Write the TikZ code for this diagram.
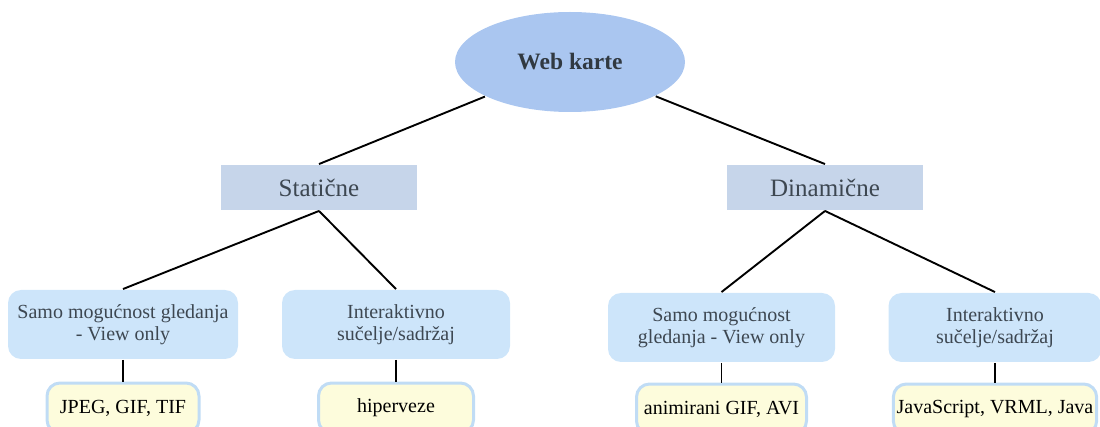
\documentclass[tikz,border=0pt]{standalone}
\usepackage{fontspec}
\setmainfont{Liberation Serif}
\usetikzlibrary{shapes.geometric}

\definecolor{rootblue}{HTML}{AAC6F0}
\definecolor{kindblue}{HTML}{C6D5EA}
\definecolor{modeblue}{HTML}{CDE5FA}
\definecolor{leafyellow}{HTML}{FDFCDC}
\definecolor{leafedge}{HTML}{C0DCF5}
\definecolor{greytext}{HTML}{3D4751}

\begin{document}
\begin{tikzpicture}[x=1pt,y=-1pt,line width=1.9pt,
    root/.style={ellipse,fill=rootblue,minimum width=230pt,minimum height=100pt,
        font=\fontsize{23.5}{26}\selectfont\bfseries,text=greytext!80!black},
    kind/.style={rectangle,fill=kindblue,minimum width=196pt,minimum height=45pt,
        font=\fontsize{25}{28}\selectfont,text=greytext},
    mode/.style={rectangle,rounded corners=13pt,fill=modeblue,minimum height=69pt,
        align=center,font=\fontsize{20}{22}\selectfont,text=greytext},
    leaf/.style={rectangle,rounded corners=13pt,fill=leafyellow,draw=leafedge,
        line width=3pt,minimum height=50pt,font=\fontsize{20}{22}\selectfont,text=black}]

    \useasboundingbox (0,0) rectangle (1100,427);
    \clip (0,0) rectangle (1100,427);

    % root and the two kinds
    \node[root] (web) at (570,62) {Web karte};
    \node[kind] (stat) at (319,187.5) {Statične};
    \node[kind] (din) at (825,187.5) {Dinamične};

    % second level
    \node[mode,minimum width=230pt] (statview) at (123,324.5) {Samo mogućnost gledanja\\- View only};
    \node[mode,minimum width=228pt] (statint) at (396,324.5) {Interaktivno\\sučelje/sadržaj};
    \node[mode,minimum width=227pt] (dinview) at (721.5,327.5) {Samo mogućnost\\gledanja - View only};
    \node[mode,minimum width=213pt] (dinint) at (995,327.5) {Interaktivno\\sučelje/sadržaj};

    % leaves
    \node[leaf,minimum width=152pt] (statviewex) at (123,408) {JPEG, GIF, TIF};
    \node[leaf,minimum width=155pt] (statintex) at (396,408) {hiperveze};
    \node[leaf,minimum width=170pt] (dinviewex) at (721.5,409) {animirani GIF, AVI};
    \node[leaf,minimum width=200pt] (dinintex) at (995,409) {JavaScript, VRML, Java};

    \draw (web) -- (stat.north);
    \draw (web) -- (din.north);
    \foreach \a/\b in {stat/statview,stat/statint,din/dinview,din/dinint}
        \draw (\a.south) -- (\b.north);
    \foreach \a in {statview,statint,dinview,dinint}
        \draw (\a.south) -- (\a ex.north);

\end{tikzpicture}
\end{document}
